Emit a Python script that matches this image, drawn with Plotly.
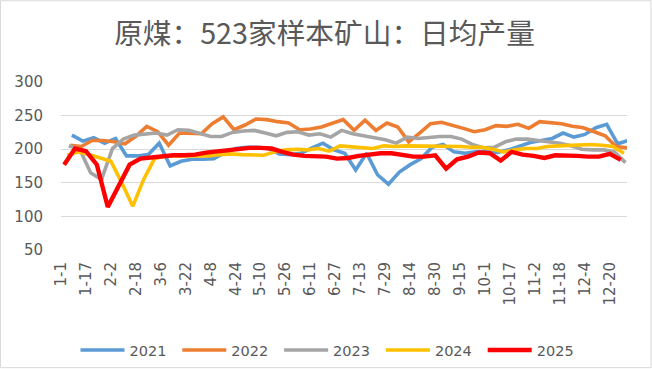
import plotly.graph_objects as go
import pandas as pd

TITLE = "原煤：523家样本矿山：日均产量"

TICK_LABELS = ["1-1", "1-17", "2-2", "2-18", "3-6", "3-22", "4-8", "4-24", "5-10",
               "5-26", "6-11", "6-27", "7-13", "7-29", "8-14", "8-30", "9-15",
               "10-1", "10-17", "11-2", "11-18", "12-4", "12-20"]
Y_TICKS = [50, 100, 150, 200, 250, 300]

YEARS = ["2021", "2022", "2023", "2024", "2025"]
START_DATES = ["2021-01-08", "2022-01-07", "2023-01-06", "2024-01-05", "2025-01-03"]

V2021 = [221, 212, 217, 209, 216, 190, 190, 192, 209, 175, 182, 185, 185, 186, 195, 201,
         203, 203, 201, 193, 192, 194, 202, 209, 199, 194, 169, 194, 162, 148, 166, 177,
         186, 203, 207, 196, 194, 196, 196, 195, 199, 205, 210, 213, 216, 224, 218, 222,
         232, 237, 208, 213]
V2022 = [206, 204, 213, 213, 211, 208, 219, 234, 226, 206, 224, 223, 223, 238, 248, 229,
         236, 245, 244, 241, 239, 229, 230, 233, 238, 244, 228, 243, 228, 239, 233, 211,
         224, 238, 240, 236, 231, 226, 229, 235, 234, 237, 231, 241, 240, 238, 234, 232,
         226, 220, 204, 202]
V2023 = [205, 200, 165, 155, 201, 215, 221, 222, 224, 221, 229, 228, 224, 219, 219, 225,
         227, 228, 224, 220, 225, 226, 221, 223, 218, 228, 223, 220, 218, 214, 209, 218,
         216, 218, 219, 219, 215, 207, 202, 203, 211, 215, 215, 213, 211, 209, 205, 200,
         199, 199, 196, 180]
V2024 = [191, 196, 192, 187, 182, 150, 115, 155, 186, 190, 190, 191, 191, 190, 192, 193,
         192, 192, 191, 196, 199, 200, 199, 201, 197, 205, 204, 202, 201, 205, 204, 205,
         205, 204, 204, 204, 204, 203, 203, 200, 196, 199, 201, 201, 204, 205, 206, 207,
         207, 206, 204, 194]
V2025 = [177, 201, 197, 177, 114, 146, 177, 186, 188, 190, 191, 191, 192, 195, 197, 198,
         200, 202, 202, 201, 196, 192, 190, 189, 189, 186, 187, 190, 192, 194, 194, 191,
         189, 189, 191, 171, 185, 189, 195, 194, 183, 196, 192, 190, 187, 191, 191, 190,
         189, 189, 193, 184]
VALUES = [V2021, V2022, V2023, V2024, V2025]
COLORS = ["#5B9BD5", "#ED7D31", "#A5A5A5", "#FFC000", "#FF0000"]
WIDTHS = [3.6, 3.6, 3.6, 3.6, 4.4]

W, H = 652, 369
ML, MR, MT, MB = 61, 24.5, 82, 118.5
PW, PH = W - ML - MR, H - MT - MB
TXT = "#595959"
FONT = "DejaVu Sans"

fig = go.Figure()
for name, start, vals, col, lw in zip(YEARS, START_DATES, VALUES, COLORS, WIDTHS):
    dates = pd.date_range(start=start, periods=len(vals), freq="7D")
    jan1 = pd.Timestamp(int(name), 1, 1)
    x = [(d - jan1).days for d in dates]
    fig.add_trace(go.Scatter(x=x, y=vals, mode="lines", name=name,
                             line=dict(color=col, width=lw, shape="linear")))

tickvals = [16 * i for i in range(len(TICK_LABELS))]

fig.update_layout(
    width=W, height=H,
    margin=dict(l=ML, r=MR, t=MT, b=MB, pad=0, autoexpand=False),
    paper_bgcolor="white", plot_bgcolor="white",
    font=dict(family=FONT, color=TXT, size=14),
    title=dict(text=TITLE, xref="container", yref="container", x=324.5 / W,
               y=1 - 34 / H, xanchor="center", yanchor="middle",
               font=dict(family="Noto Sans CJK SC", size=28.7, color=TXT)),
    xaxis=dict(range=[0, 363], tickmode="array", tickvals=tickvals, ticktext=TICK_LABELS,
               tickangle=-90, showgrid=False, zeroline=False, showline=False,
               ticks="", ticklabelstandoff=8,
               tickfont=dict(family=FONT, size=15, color=TXT)),
    yaxis=dict(range=[50, 300], tickmode="array", tickvals=Y_TICKS,
               showgrid=True, gridcolor="#D9D9D9", gridwidth=1, zeroline=False,
               showline=False, ticks="", ticklabelstandoff=17,
               tickfont=dict(family=FONT, size=15, color=TXT)),
    legend=dict(orientation="h", xref="container", yref="container",
                x=330 / W, y=1 - 350 / H, xanchor="center", yanchor="middle",
                entrywidth=42.8, entrywidthmode="pixels", itemwidth=44,
                font=dict(family=FONT, size=14.5, color=TXT), bgcolor="rgba(0,0,0,0)"),
    showlegend=True,
)

fig.add_shape(type="rect", xref="paper", yref="paper",
              x0=(0.5 - ML) / PW, x1=(W - 0.5 - ML) / PW,
              y0=-(MB - 0.5) / PH, y1=1 + (MT - 0.5) / PH,
              line=dict(color="#D9D9D9", width=1), fillcolor="rgba(0,0,0,0)", layer="below")

fig.write_html("out.html", config={"displayModeBar": False},
               post_script="document.body.style.margin='0px';document.body.style.overflow='hidden';")
